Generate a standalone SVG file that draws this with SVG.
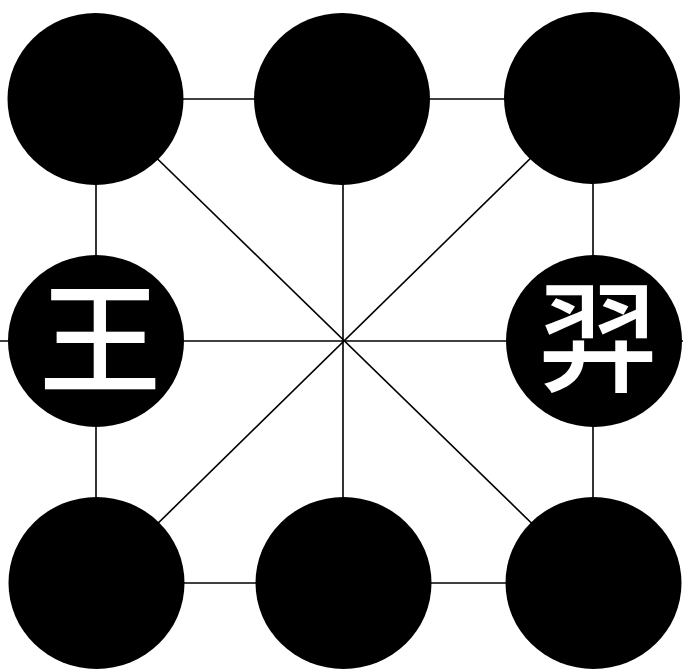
<svg xmlns="http://www.w3.org/2000/svg" width="683" height="670" viewBox="0 0 683 670">
<style>
.edge{stroke:#000;stroke-width:1.6;fill:none}
.node{fill:#000}
.lbl{fill:#fff;font-family:"Noto Sans CJK SC","Noto Sans CJK JP",sans-serif;font-size:122px;font-weight:500;text-anchor:middle;dominant-baseline:central}
</style>
<rect width="683" height="670" fill="#fff"/>
<g id="connectors">
<line class="edge" x1="96" y1="99" x2="593" y2="99"/>
<line class="edge" x1="0" y1="341" x2="683" y2="341"/>
<line class="edge" x1="96" y1="583" x2="593" y2="583"/>
<line class="edge" x1="96" y1="99" x2="96" y2="583"/>
<line class="edge" x1="343" y1="99" x2="343" y2="583"/>
<line class="edge" x1="593" y1="99" x2="593" y2="583"/>
<line class="edge" x1="96" y1="99" x2="593" y2="583"/>
<line class="edge" x1="592" y1="98" x2="97" y2="583"/>
</g>
<g id="n-tl"><ellipse class="node" cx="95.5" cy="99" rx="88" ry="86"/></g>
<g id="n-tm"><ellipse class="node" cx="342" cy="99" rx="88" ry="86"/></g>
<g id="n-tr"><ellipse class="node" cx="592" cy="98" rx="88" ry="86"/></g>
<g id="n-ml"><ellipse class="node" cx="96" cy="341" rx="88" ry="86"/><text class="lbl" x="100" y="330">王</text></g>
<g id="n-mr"><ellipse class="node" cx="594" cy="341" rx="88" ry="86"/><text class="lbl" x="598" y="328">羿</text></g>
<g id="n-bl"><ellipse class="node" cx="96.5" cy="583" rx="88" ry="86"/></g>
<g id="n-bm"><ellipse class="node" cx="343.5" cy="583" rx="88" ry="86"/></g>
<g id="n-br"><ellipse class="node" cx="593.5" cy="583" rx="88" ry="86"/></g>
</svg>
